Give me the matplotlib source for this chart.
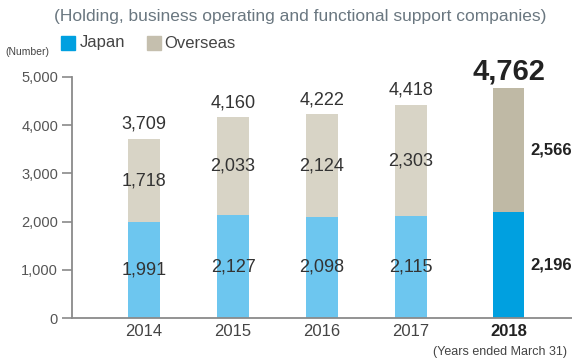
import matplotlib
matplotlib.use('Agg')
import matplotlib.pyplot as plt
from matplotlib.patches import Rectangle

plt.rcParams['font.family'] = ['Liberation Sans', 'DejaVu Sans']

years = ['2014', '2015', '2016', '2017', '2018']
japan = [1991, 2127, 2098, 2115, 2196]
overseas = [1718, 2033, 2124, 2303, 2566]
totals = [3709, 4160, 4222, 4418, 4762]
# the latest year sits a little apart from the others
x_pos = [0, 1, 2, 3, 4.1]

japan_colors = ['#6dc6ef'] * 4 + ['#00a0e0']
overseas_colors = ['#d8d4c6'] * 4 + ['#bfb9a5']

fig = plt.figure(figsize=(5.72, 3.6), dpi=100)
ax = fig.add_axes([72 / 572, 1 - 318 / 360, 1 - 72 / 572, 241 / 360])

ax.bar(x_pos, japan, width=0.35, color=japan_colors)
ax.bar(x_pos, overseas, width=0.35, bottom=japan, color=overseas_colors)

ax.set_xlim(-0.81, 4.81)
ax.set_ylim(0, 5000)
ax.set_yticks(range(0, 5001, 1000))
ax.set_yticklabels([f'{v:,}' for v in range(0, 5001, 1000)])
ax.set_xticks(x_pos)
ax.set_xticklabels(years)

for s in ['top', 'right']:
    ax.spines[s].set_visible(False)
for s in ['left', 'bottom']:
    ax.spines[s].set_color('#8a8a8a')
    ax.spines[s].set_linewidth(1.3)
ax.tick_params(axis='y', length=7, width=1.2, color='#8a8a8a', labelsize=10.5,
               labelcolor='#555555', pad=3)
ax.tick_params(axis='x', length=0, labelsize=12, labelcolor='#444444', pad=4)
ax.get_xticklabels()[-1].set_fontweight('bold')
ax.get_xticklabels()[-1].set_color('#222222')

# value labels for the regular years
for i in range(4):
    x = x_pos[i]
    ax.text(x, japan[i] / 2, f'{japan[i]:,}', ha='center', va='center',
            fontsize=13, color='#333333')
    ax.text(x, japan[i] + overseas[i] / 2, f'{overseas[i]:,}', ha='center',
            va='center', fontsize=13, color='#333333')
    ax.text(x, totals[i] + 130, f'{totals[i]:,}', ha='center', va='bottom',
            fontsize=13, color='#333333')

# latest year is highlighted in bold, segment labels sit to the right of the bar
ax.text(x_pos[4], totals[4] + 60, f'{totals[4]:,}', ha='center', va='bottom',
        fontsize=21, fontweight='bold', color='#222222')
ax.text(x_pos[4] + 0.24, japan[4] / 2, f'{japan[4]:,}', ha='left', va='center',
        fontsize=12, fontweight='bold', color='#222222', clip_on=False)
ax.text(x_pos[4] + 0.24, japan[4] + overseas[4] / 2, f'{overseas[4]:,}',
        ha='left', va='center', fontsize=12, fontweight='bold', color='#222222',
        clip_on=False)

# header texts and legend
fig.text(300 / 572, 1 - 16 / 360,
         '(Holding, business operating and functional support companies)',
         ha='center', va='center', fontsize=12.5, color='#6a7780')
fig.text(5 / 572, 1 - 52 / 360, '(Number)', ha='left', va='center',
         fontsize=7.5, color='#444444')
fig.patches.append(Rectangle((61 / 572, 1 - 50 / 360), 14 / 572, 14 / 360,
                             transform=fig.transFigure, color='#00a0e0'))
fig.text(80 / 572, 1 - 43 / 360, 'Japan', ha='left', va='center',
         fontsize=12, color='#444444')
fig.patches.append(Rectangle((147 / 572, 1 - 50 / 360), 14 / 572, 14 / 360,
                             transform=fig.transFigure, color='#c5bfae'))
fig.text(164 / 572, 1 - 43 / 360, 'Overseas', ha='left', va='center',
         fontsize=12, color='#444444')
fig.text(433 / 572, 1 - 352 / 360, '(Years ended March 31)', ha='left',
         va='center', fontsize=9, color='#444444')

fig.savefig('out.png', dpi=100)
